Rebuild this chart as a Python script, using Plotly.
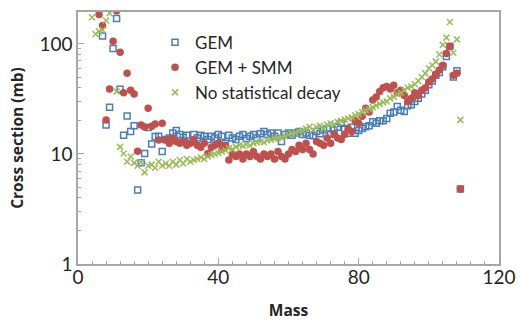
import plotly.graph_objects as go

# GEM (blue open squares)
gem_mass = list(range(7, 110))
gem_cs = [118, 18.3, 26.6, 91, 170, 38.7, 14.8, 22.1, 16, 18,
          4.7, 8.3, 10.1, 17.4, 12.3, 14.4, 14.5, 10.5, 13.5, 14,
          15.5, 16.3, 15, 14.2, 14.8, 13, 15, 14, 14.8, 14.5,
          13.5, 14.5, 14, 15, 14.5, 12.5, 14.8, 14, 13.5, 14.5,
          15, 13.8, 14.5, 15, 14, 15.3, 16, 15, 15.5, 14.5,
          15.5, 13, 15, 15.5, 14.8, 15.5, 16, 15, 15.5, 14.8,
          14.6, 16, 15.3, 16.5, 17, 15.2, 16.5, 17.5, 19, 17,
          15.4, 17.5, 15.4, 16.3, 17, 17.7, 18, 19.6, 19, 20,
          20, 21, 23.4, 24, 27, 25, 24.3, 27.4, 28, 30,
          32, 35, 38, 42.5, 46, 52, 55, 62, 77, 94.5,
          50, 57, 4.8]

# GEM + SMM (red filled circles)
smm_mass = list(range(6, 110))
smm_cs = [185, 147, 20.4, 39, 106, 200, 84, 36, 54, 38,
          35, 10.6, 18.3, 17.6, 26, 17.9, 18.7, 13.4, 19, 13.4,
          12.5, 14, 13, 12.5, 13, 12, 12.5, 13.5, 12, 11.5,
          12.5, 10.1, 11.5, 12, 12.5, 11, 12, 8.8, 10, 9.5,
          10, 9, 10, 9.5, 10.5, 9.5, 9, 10, 9.5, 10,
          9, 10.5, 9.5, 9, 10, 11, 10.5, 12, 11, 12.5,
          11, 10, 13, 12.5, 12, 14, 12.5, 15, 14, 13.5,
          15, 17, 16, 20, 19, 22, 26, 24, 31, 33,
          37, 40, 41, 39, 42, 36, 38, 34, 30, 32,
          36, 34, 38, 40, 45, 48, 53, 58, 64, 82,
          95, 52, 54, 4.8]

# No statistical decay (green crosses)
nsd_mass = [4, 5, 6, 7, 8, 9] + list(range(11, 110))
nsd_cs = [175, 123, 130, 134, 163, 190,
          37, 11.6, 10.1, 8.5, 9.5, 8.3, 7.8, 8.4, 6.8, 7.8,
          8, 7.5, 8.5, 7.8, 8.2, 7.8, 8.5, 8, 8.8, 8.2,
          9, 8.5, 8.8, 9, 9.3, 9, 9.5, 9.8, 10, 10.2,
          10.5, 10.8, 11.3, 11, 11.6, 12, 11.8, 12.2, 12, 12.5,
          12.8, 13, 12.8, 13.3, 13.5, 13.8, 14, 14.2, 14.5, 15,
          15.3, 15.5, 16, 16.3, 17, 17.7, 16.5, 17.5, 18, 17,
          18.5, 19, 18.5, 19.5, 20, 20.5, 21, 21.5, 22.5, 23,
          24, 25, 25.5, 26.5, 27.5, 28.5, 29.5, 30, 32, 33,
          35, 36, 38, 40, 41, 43, 46, 50, 54, 60,
          64, 69, 80, 98, 114, 158, 83, 110, 20.4]

x_ticks = [0, 40, 80, 120]
y_ticks = [1, 10, 100]

BLUE = "#4a7ebb"
RED = "#c0504d"
GREEN = "#9bbb59"
FONT = "Lato"
TFONT = "Open Sans"
TXT = "#262626"
AX = "#a6a6a6"

fig = go.Figure()
fig.add_trace(go.Scatter(x=gem_mass, y=gem_cs, mode="markers", name="GEM",
                         marker=dict(symbol="square-open", size=6, color=BLUE,
                                     line=dict(width=1.5, color=BLUE))))
fig.add_trace(go.Scatter(x=smm_mass, y=smm_cs, mode="markers", name="GEM + SMM",
                         marker=dict(symbol="circle", size=7.5, color=RED)))
fig.add_trace(go.Scatter(x=nsd_mass, y=nsd_cs, mode="markers", name="No statistical decay",
                         marker=dict(symbol="x-thin", size=6, color=GREEN,
                                     line=dict(width=1.5, color=GREEN))))

fig.update_layout(
    width=520, height=321,
    margin=dict(l=78, r=21, t=12, b=57, autoexpand=False),
    paper_bgcolor="white", plot_bgcolor="white",
    font=dict(family=FONT, color=TXT),
    showlegend=True,
    legend=dict(x=0.183, y=0.95, xanchor="left", yanchor="top",
                bgcolor="rgba(0,0,0,0)", font=dict(size=17, family=FONT, color=TXT),
                itemwidth=30, tracegroupgap=0),
)
fig.update_xaxes(range=[0, 120], tickvals=x_ticks, ticktext=[str(v) for v in x_ticks],
                 automargin=False,
                 ticks="inside", ticklen=6, tickcolor=AX,
                 minor=dict(ticks="inside", ticklen=3, dtick=4, tickcolor=AX),
                 showgrid=False, zeroline=False,
                 showline=True, linecolor=AX, linewidth=1.5, mirror=True,
                 ticklabelstandoff=-5,
                 tickfont=dict(size=19, family=FONT, color=TXT),
                 title=dict(text="<b>Mass</b>", font=dict(size=15.5, family=TFONT, color=TXT),
                            standoff=22))
fig.update_yaxes(type="log", range=[0, 2.29], tickvals=y_ticks, ticktext=[str(v) for v in y_ticks],
                 automargin=False,
                 ticks="inside", ticklen=6, tickcolor=AX,
                 minor=dict(ticks="inside", ticklen=3, dtick="D1", tickcolor=AX),
                 showgrid=False, zeroline=False,
                 showline=True, linecolor=AX, linewidth=1.5, mirror=True,
                 tickfont=dict(size=19, family=FONT, color=TXT),
                 title=dict(text="<b>Cross section (mb)</b>", font=dict(size=15.5, family=TFONT, color=TXT),
                            standoff=12))

fig.write_html("out.html", config={"displayModeBar": False},
               post_script="document.body.style.margin='0';document.body.style.overflow='hidden';")
